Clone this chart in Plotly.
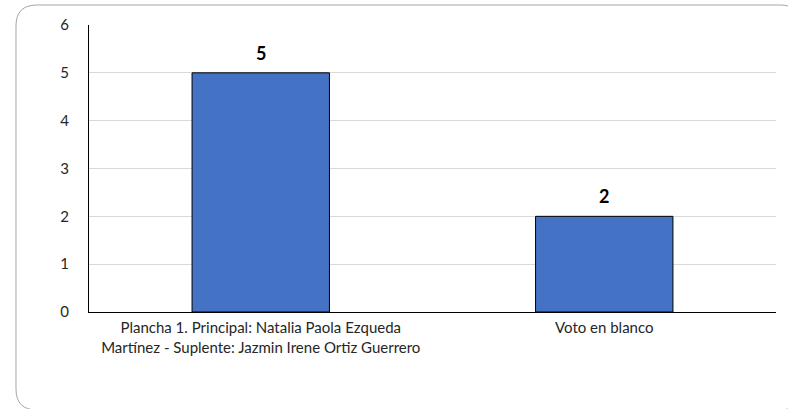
import plotly.graph_objects as go

categories = ["Plancha 1. Principal: Natalia Paola Ezqueda<br>Martínez - Suplente: Jazmin Irene Ortiz Guerrero",
              "Voto en blanco"]
values = [5, 2]
y_ticks = [0, 1, 2, 3, 4, 5, 6]

W, H = 788, 409
L, R, T, B = 89, 12, 25, 97
pw, ph = W - L - R, H - T - B

def px2x(px):
    return (px - L) / pw

def py2y(py):
    return (H - B - py) / ph

# rounded border box in pixel coords
x0, y0, x1, y1, r = 16, 5, 801, 410, 21
pts = [
    ("M", x0 + r, y0), ("L", x1 - r, y0), ("Q", x1, y0, x1, y0 + r),
    ("L", x1, y1 - r), ("Q", x1, y1, x1 - r, y1), ("L", x0 + r, y1),
    ("Q", x0, y1, x0, y1 - r), ("L", x0, y0 + r), ("Q", x0, y0, x0 + r, y0),
]
path = ""
for p in pts:
    cmd = p[0]
    coords = p[1:]
    s = []
    for i in range(0, len(coords), 2):
        s.append(f"{px2x(coords[i]):.5f},{py2y(coords[i+1]):.5f}")
    path += cmd + " " + " ".join(s) + " "
path += "Z"

FONT = "Lato, Open Sans, sans-serif"

fig = go.Figure()
fig.add_trace(go.Bar(
    x=categories, y=values,
    marker=dict(color="#4472C4", line=dict(color="#000000", width=1)),
    cliponaxis=False, hoverinfo="x+y",
))

for c, v in zip(categories, values):
    fig.add_annotation(x=c, y=v, text=f"<b>{v}</b>", showarrow=False, yshift=20,
                       font=dict(family=FONT, size=18, color="#000000"))

fig.update_layout(
    width=W, height=H,
    margin=dict(l=L, r=R, t=T, b=B),
    paper_bgcolor="white", plot_bgcolor="white",
    bargap=0.6,
    showlegend=False,
    font=dict(family=FONT, size=15, color="#262626"),
    shapes=[dict(type="path", path=path, xref="paper", yref="paper",
                 line=dict(color="#a6a6a6", width=1), fillcolor="rgba(0,0,0,0)", layer="below")],
)
fig.update_xaxes(showline=True, linecolor="#000000", linewidth=1, showgrid=False,
                 ticks="", tickfont=dict(size=15), ticklabelstandoff=2)
fig.update_yaxes(range=[0, 6], tickvals=y_ticks, showgrid=True, gridcolor="#d9d9d9", gridwidth=1,
                 showline=True, linecolor="#000000", linewidth=1, zeroline=False,
                 ticks="", ticklabelstandoff=16, tickfont=dict(size=15))

fig.write_html("out.html", config={"displayModeBar": False},
               post_script="document.body.style.margin='0px';document.body.style.overflow='hidden';")
